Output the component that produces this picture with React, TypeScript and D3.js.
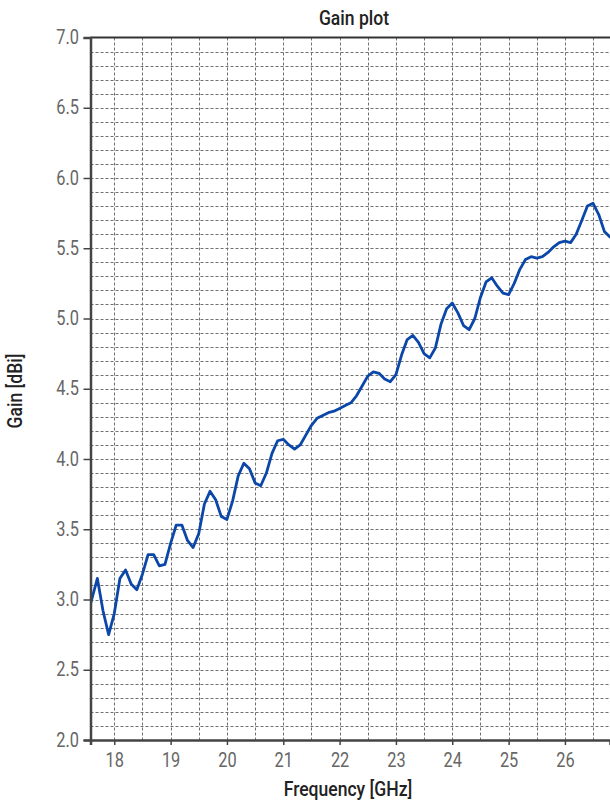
import React, { useRef, useEffect } from "react";
import * as d3 from "d3";

// frequency samples [GHz]
const freq = [
  17.5, 17.6, 17.7, 17.8, 17.9, 18.0, 18.1, 18.2, 18.3, 18.4, 18.5, 18.6, 18.7, 18.8, 18.9,
  19.0, 19.1, 19.2, 19.3, 19.4, 19.5, 19.6, 19.7, 19.8, 19.9, 20.0, 20.1, 20.2, 20.3, 20.4,
  20.5, 20.6, 20.7, 20.8, 20.9, 21.0, 21.1, 21.2, 21.3, 21.4, 21.5, 21.6, 21.7, 21.8, 21.9,
  22.0, 22.1, 22.2, 22.3, 22.4, 22.5, 22.6, 22.7, 22.8, 22.9, 23.0, 23.1, 23.2, 23.3, 23.4,
  23.5, 23.6, 23.7, 23.8, 23.9, 24.0, 24.1, 24.2, 24.3, 24.4, 24.5, 24.6, 24.7, 24.8, 24.9,
  25.0, 25.1, 25.2, 25.3, 25.4, 25.5, 25.6, 25.7, 25.8, 25.9, 26.0, 26.1, 26.2, 26.3, 26.4,
  26.5, 26.6, 26.7, 26.8, 26.9,
];

// gain [dBi]
const gain = [
  2.85, 3.0, 3.15, 2.92, 2.75, 2.9, 3.15, 3.21, 3.11, 3.07, 3.18, 3.32, 3.32, 3.24, 3.25,
  3.4, 3.53, 3.53, 3.42, 3.37, 3.47, 3.68, 3.77, 3.71, 3.59, 3.57, 3.7, 3.88, 3.97, 3.93,
  3.83, 3.81, 3.9, 4.04, 4.13, 4.14, 4.1, 4.07, 4.1, 4.17, 4.24, 4.29, 4.31, 4.33, 4.34,
  4.36, 4.38, 4.4, 4.45, 4.52, 4.59, 4.62, 4.61, 4.57, 4.55, 4.6, 4.74, 4.85, 4.88, 4.83,
  4.75, 4.72, 4.79, 4.96, 5.07, 5.11, 5.04, 4.95, 4.92, 5.0, 5.15, 5.26, 5.29, 5.23, 5.18,
  5.17, 5.25, 5.35, 5.42, 5.44, 5.43, 5.44, 5.47, 5.51, 5.54, 5.55, 5.54, 5.6, 5.7, 5.8,
  5.82, 5.74, 5.62, 5.58, 5.57,
];

const xTicks = [18, 19, 20, 21, 22, 23, 24, 25, 26];
const yTicks = [2.0, 2.5, 3.0, 3.5, 4.0, 4.5, 5.0, 5.5, 6.0, 6.5, 7.0];

const FONT = "Roboto, 'Liberation Sans', sans-serif";
const SQ = 0.84; // horizontal squeeze to mimic the condensed face
const SQT = 0.9; // same for the titles

const App = () => {
  const chartRef = useRef<HTMLDivElement>(null);

  useEffect(() => {
    const W = 610;
    const H = 806;
    const left = 90.5;
    const top = 37.5;
    const bottom = 740;
    const right = 610;

    d3.select(chartRef.current).selectAll("svg").remove();

    const svg = d3
      .select(chartRef.current)
      .append("svg")
      .attr("width", W)
      .attr("height", H)
      .style("position", "absolute")
      .style("left", 0)
      .style("top", 0)
      .style("font-family", FONT);

    const x = d3.scaleLinear().domain([17.578, 26.8]).range([left, right]);
    const y = d3.scaleLinear().domain([2, 7]).range([bottom, top]);

    svg.append("rect").attr("width", W).attr("height", H).attr("fill", "#fff");

    // grid: 0.5 GHz vertical, 0.1 dB horizontal
    const vGrid = d3.range(18, 27, 0.5);
    const hGrid = d3.range(21, 70).map((d) => d / 10);

    svg.append("g")
      .selectAll("line")
      .data(vGrid)
      .enter()
      .append("line")
      .attr("x1", (d) => Math.round(x(d)) + 0.5)
      .attr("x2", (d) => Math.round(x(d)) + 0.5)
      .attr("y1", top)
      .attr("y2", bottom)
      .attr("stroke", "#707070")
      .attr("stroke-width", 1)
      .attr("stroke-dasharray", "3,2");

    svg.append("g")
      .selectAll("line")
      .data(hGrid)
      .enter()
      .append("line")
      .attr("x1", left)
      .attr("x2", right)
      .attr("y1", (d) => Math.round(y(d)) + 0.5)
      .attr("y2", (d) => Math.round(y(d)) + 0.5)
      .attr("stroke", "#707070")
      .attr("stroke-width", 1)
      .attr("stroke-dasharray", "3,2");

    // curve
    svg.append("clipPath")
      .attr("id", "plotclip")
      .append("rect")
      .attr("x", left)
      .attr("y", top)
      .attr("width", right - left)
      .attr("height", bottom - top);

    const line = d3
      .line<number>()
      .x((d, i) => x(freq[i]))
      .y((d) => y(d));

    svg.append("path")
      .datum(gain)
      .attr("clip-path", "url(#plotclip)")
      .attr("fill", "none")
      .attr("stroke", "#0a47a8")
      .attr("stroke-width", 2.8)
      .attr("stroke-linejoin", "round")
      .attr("d", line);

    // frame
    svg.append("line")
      .attr("x1", left).attr("x2", right + 2)
      .attr("y1", top).attr("y2", top)
      .attr("stroke", "#333").attr("stroke-width", 2);

    // y axis
    const yAxis = svg.append("g")
      .attr("transform", `translate(${left},0)`)
      .call(d3.axisLeft(y).tickValues(yTicks).tickSize(7).tickPadding(4).tickFormat(d3.format(".1f")));
    yAxis.select(".domain").attr("stroke", "#444").attr("stroke-width", 2.5);
    yAxis.selectAll(".tick line").attr("stroke", "#444").attr("stroke-width", 1.5);
    yAxis.selectAll(".tick text")
      .attr("x", -11.5 / SQ)
      .attr("transform", `scale(${SQ},1)`)
      .attr("fill", "#666")
      .style("font-size", "19.5px")
      .style("font-family", FONT);

    // x axis
    const xAxis = svg.append("g")
      .attr("transform", `translate(0,${bottom})`)
      .call(d3.axisBottom(x).tickValues(xTicks).tickSize(5).tickPadding(8).tickFormat(d3.format("d")));
    xAxis.select(".domain").attr("stroke", "#444").attr("stroke-width", 2.5);
    xAxis.selectAll(".tick line").attr("stroke", "#444").attr("stroke-width", 1.5);
    xAxis.selectAll(".tick text")
      .attr("transform", `scale(${SQ},1)`)
      .attr("fill", "#666")
      .style("font-size", "19.5px")
      .style("font-family", FONT);

    // titles
    svg.append("text")
      .attr("transform", `translate(354,25) scale(${SQT},1)`)
      .attr("text-anchor", "middle")
      .attr("fill", "#222")
      .style("font-size", "19.5px")
      .style("font-weight", 500)
      .text("Gain plot");

    svg.append("text")
      .attr("transform", `translate(348,796) scale(${SQT},1)`)
      .attr("text-anchor", "middle")
      .attr("fill", "#222")
      .style("font-size", "19.5px")
      .style("font-weight", 500)
      .text("Frequency [GHz]");

    svg.append("text")
      .attr("transform", `translate(22,391) rotate(-90) scale(${SQT},1)`)
      .attr("text-anchor", "middle")
      .attr("fill", "#222")
      .style("font-size", "19.5px")
      .style("font-weight", 500)
      .text("Gain [dBi]");
  }, []);

  return <div ref={chartRef}></div>;
};

export default App;
